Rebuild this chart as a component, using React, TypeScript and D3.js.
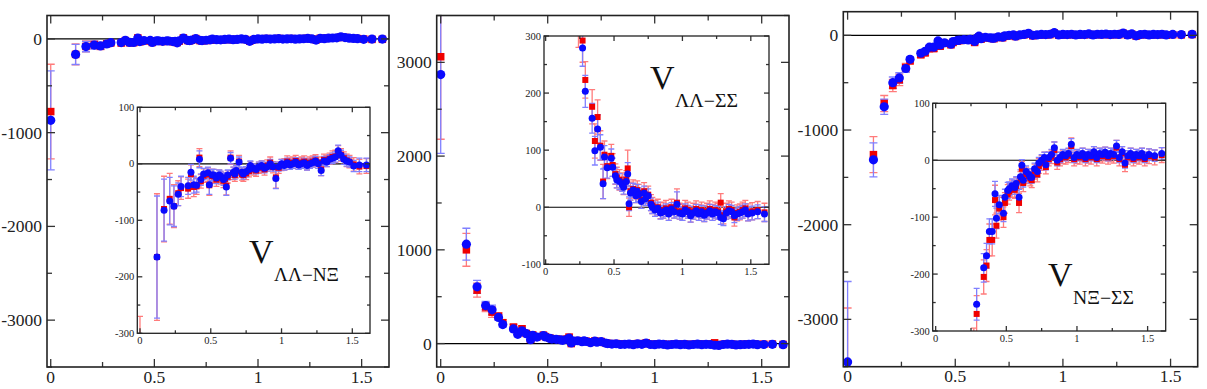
import React from "react";
import * as d3 from "d3";

// Lattice distances r [fm]
const R = [
  0, 0.12, 0.17, 0.21, 0.24, 0.27, 0.29,
  0.34, 0.36, 0.38, 0.4, 0.42, 0.43, 0.45,
  0.48, 0.49, 0.51, 0.52, 0.54, 0.56, 0.57,
  0.59, 0.6, 0.61, 0.62, 0.64, 0.66, 0.67,
  0.68, 0.7, 0.72, 0.73, 0.75, 0.77, 0.78,
  0.8, 0.82, 0.84, 0.86, 0.88, 0.9, 0.92,
  0.94, 0.96, 0.98, 1.0, 1.02, 1.04, 1.06,
  1.08, 1.1, 1.12, 1.14, 1.16, 1.18, 1.2,
  1.22, 1.24, 1.26, 1.28, 1.3, 1.32, 1.34,
  1.36, 1.38, 1.4, 1.42, 1.44, 1.46, 1.48,
  1.51, 1.55, 1.6,
];

// ---- V(ΛΛ-NΞ) ----
const LN_BLUE = [
  -868, -165, -82, -66, -75, -54, -40,
  -39, -15, -37, -38, 8, -28, -18,
  -16, -37, -20, -20, -25, -20, -22,
  -28, -25, -41, -20, 10, -15, -18,
  -12, 3, -15, -18, -14, -10, -3,
  -8, -10, -5, -3, -8, -5, 0,
  -5, -26, -5, 0, -3, 2, -2,
  0, 3, -2, 0, 2, -3, 0,
  2, 5, 0, -12, 5, 3, 8,
  10, 12, 23, 15, 8, 5, 3,
  -4, -2, -2,
];
const LN_BLUE_ERR = [
  528, 108, 55, 42, 36, 20, 18,
  15, 14, 15, 12, 15, 10, 10,
  10, 17, 10, 10, 10, 9, 9,
  10, 9, 15, 9, 10, 9, 9,
  9, 9, 9, 9, 9, 8, 8,
  8, 8, 8, 8, 8, 8, 8,
  8, 18, 8, 8, 8, 8, 8,
  8, 8, 8, 8, 8, 8, 8,
  8, 8, 8, 9, 8, 8, 8,
  9, 9, 10, 9, 9, 9, 9,
  10, 12, 12,
];
const LN_RED = [
  -775, -165, -80, -62, -75, -52, -43,
  -44, -18, -41, -40, 11, -31, -21,
  -19, -38, -22, -22, -28, -22, -25,
  -30, -27, -39, -23, 11, -17, -20,
  -14, 4, -18, -20, -17, -13, -6,
  -10, -12, -7, -5, -10, -3, 2,
  -6, -24, -7, -2, -1, 4, 0,
  2, 5, 0, 2, 4, -1, 2,
  4, 6, 2, -10, 7, 5, 9,
  12, 13, 21, 16, 10, 6, 4,
  -1, -5, -4,
];
const LN_RED_ERR = [
  505, 112, 58, 45, 38, 22, 20,
  17, 16, 17, 14, 16, 12, 12,
  12, 18, 12, 12, 12, 11, 11,
  12, 11, 16, 11, 12, 11, 11,
  11, 11, 11, 11, 11, 10, 10,
  10, 10, 10, 10, 10, 10, 10,
  10, 19, 10, 10, 10, 10, 10,
  10, 10, 10, 10, 10, 10, 10,
  10, 10, 10, 11, 10, 10, 10,
  11, 11, 11, 11, 11, 11, 11,
  12, 13, 13,
];

// ---- V(ΛΛ-ΣΣ) ----
const LS_BLUE = [
  2870, 1060, 605, 405, 360, 279, 203,
  156, 99, 137, 105, 41, 88, 69,
  86, 70, 55, 48, 45, 40, 35,
  45, 58, 6, 25, 30, 20, 28,
  22, 10, 25, 15, 20, 5, 0,
  -5, -2, -10, -8, -5, -12, -3,
  -8, 5, -10, -12, -5, -8, -15,
  -10, -6, -12, -8, -14, -10, -6,
  -12, -8, -10, -18, -20, -10, -6,
  -8, -15, -12, -10, -8, -5, -12,
  -10, -8, -12,
];
const LS_BLUE_ERR = [
  840, 170, 70, 45, 50, 32, 28,
  26, 25, 25, 22, 26, 20, 18,
  16, 16, 14, 14, 14, 12, 12,
  12, 20, 12, 12, 12, 12, 12,
  12, 12, 12, 12, 12, 11, 11,
  11, 11, 11, 11, 11, 11, 11,
  11, 22, 11, 11, 11, 11, 11,
  11, 11, 11, 11, 11, 11, 11,
  11, 11, 11, 12, 12, 11, 11,
  11, 12, 11, 11, 11, 11, 12,
  12, 12, 13,
];
const LS_RED = [
  3060, 1000, 570, 390, 335, 292, 223,
  176, 116, 158, 108, 45, 92, 72,
  90, 74, 58, 52, 48, 44, 38,
  48, 68, 0, 28, 32, 24, 30,
  25, 13, 28, 18, 22, 8, 3,
  -2, 0, -6, -5, -2, -9, 0,
  -5, 8, -7, -9, -2, -5, -12,
  -7, -3, -9, -5, -11, -7, -3,
  -9, -5, -7, 8, -14, -7, -3,
  -5, -18, -10, -8, -5, -2, -9,
  -7, -5, -9,
];
const LS_RED_ERR = [
  880, 175, 75, 50, 55, 38, 32,
  30, 30, 30, 26, 30, 24, 22,
  20, 20, 18, 18, 18, 16, 16,
  16, 32, 16, 16, 16, 16, 16,
  15, 15, 15, 15, 15, 14, 14,
  14, 14, 14, 14, 14, 14, 14,
  14, 24, 14, 14, 14, 14, 14,
  14, 14, 14, 14, 14, 14, 14,
  14, 14, 14, 16, 15, 14, 14,
  14, 15, 14, 14, 14, 14, 15,
  15, 15, 16,
];

// ---- V(NΞ-ΣΣ) ----
const NS_BLUE = [
  -3450, -1315, -755, -500, -450, -350, -253,
  -189, -168, -125, -125, -59, -102, -78,
  -93, -65, -53, -50, -45, -48, -41,
  -65, -29, -9, -35, -20, -25, -30,
  -30, -15, -20, -5, 0, 5, -8,
  5, 10, 22, 0, 5, 10, 8,
  12, 28, 5, 10, 8, 12, 5,
  10, 8, 15, 5, 12, 10, 14,
  8, 12, 10, 25, 5, 15, -5,
  8, 12, 5, 10, 8, 12, 5,
  10, 8, 12,
];
const NS_BLUE_ERR = [
  850, 180, 80, 60, 55, 40, 28,
  25, 22, 22, 22, 22, 18, 16,
  15, 14, 14, 12, 12, 12, 12,
  14, 12, 10, 12, 10, 10, 10,
  10, 10, 10, 10, 10, 9, 9,
  9, 9, 10, 10, 9, 9, 9,
  9, 10, 9, 9, 9, 9, 9,
  9, 9, 9, 9, 9, 9, 9,
  9, 9, 9, 10, 9, 9, 9,
  9, 9, 9, 9, 9, 9, 9,
  10, 10, 10,
];
const NS_RED = [
  -3700, -1260, -720, -530, -470, -340, -270,
  -205, -185, -140, -140, -70, -115, -85,
  -100, -75, -60, -55, -50, -52, -45,
  -75, -35, -15, -40, -25, -28, -32,
  -35, -20, -25, -10, -5, 2, -12,
  2, 6, 18, -4, 2, 6, 5,
  8, 25, 2, 6, 5, 9, 2,
  7, 5, 12, 2, 9, 7, 11,
  5, 9, 7, 22, 2, 12, -8,
  5, 9, 2, 7, 5, 9, 2,
  7, 5, 9,
];
const NS_RED_ERR = [
  820, 190, 85, 65, 60, 45, 32,
  30, 28, 28, 28, 26, 22, 20,
  18, 18, 17, 15, 15, 15, 15,
  17, 15, 13, 15, 13, 13, 13,
  13, 13, 13, 13, 13, 12, 12,
  12, 12, 14, 12, 12, 12, 12,
  12, 14, 12, 12, 12, 12, 12,
  12, 12, 12, 12, 12, 12, 12,
  12, 12, 12, 13, 12, 12, 12,
  12, 12, 12, 12, 12, 12, 12,
  13, 13, 13,
];

const X_TICKS = [0, 0.5, 1, 1.5];
const X_TICK_LABELS = ["0", "0.5", "1", "1.5"];
const Y_TICKS_NEG = [0, -1000, -2000, -3000];
const Y_TICKS_POS = [0, 1000, 2000, 3000];
const INSET_Y_TICKS_NEG = [100, 0, -100, -200, -300];
const INSET_Y_TICKS_POS = [300, 200, 100, 0, -100];

const SUB_LABELS = ["ΛΛ−NΞ", "ΛΛ−ΣΣ", "NΞ−ΣΣ"];

const FONT = "'Liberation Serif', 'DejaVu Serif', serif";
const BLUE = "#0a0aff";
const RED = "#f00000";
const BLUE_BAR = "#8080ff";
const RED_BAR = "#ff7b7b";

type Box = { l: number; t: number; r: number; b: number };
type Series = { v: number[]; e: number[] };

function Plot(props: {
  id: string;
  box: Box;
  xDomain: [number, number];
  yDomain: [number, number];
  yTicks: number[];
  xMinor: number;
  yMinor: number;
  yMajor: number;
  font: number;
  major: number;
  minor: number;
  red: Series;
  blue: Series;
  dot: number;
  sq: number;
  cap: number;
  inset: boolean;
  xLabelDy: number;
  yLabelGap: number;
}) {
  const { id, box, xDomain, yDomain, yTicks, font, major, minor, red, blue } = props;
  const x = d3.scaleLinear().domain(xDomain).range([box.l, box.r]);
  const y = d3.scaleLinear().domain(yDomain).range([box.b, box.t]);

  const xt: { v: number; maj: boolean }[] = [];
  for (let k = Math.ceil(xDomain[0] / props.xMinor - 1e-9); k * props.xMinor <= xDomain[1] + 1e-9; k++) {
    const v = k * props.xMinor;
    xt.push({ v, maj: Math.abs(v / 0.5 - Math.round(v / 0.5)) < 1e-6 });
  }
  const yt: { v: number; maj: boolean }[] = [];
  for (let k = Math.ceil(yDomain[0] / props.yMinor - 1e-9); k * props.yMinor <= yDomain[1] + 1e-9; k++) {
    const v = k * props.yMinor;
    yt.push({ v, maj: Math.abs(v / props.yMajor - Math.round(v / props.yMajor)) < 1e-6 });
  }

  const bars = (s: Series, color: string) =>
    R.map((r, i) => {
      const cx = x(r);
      const y1 = y(s.v[i] + s.e[i]);
      const y2 = y(s.v[i] - s.e[i]);
      const h = props.cap / 2;
      return (
        <g key={i} stroke={color} strokeWidth={1.3} fill="none">
          <line x1={cx} x2={cx} y1={y1} y2={y2} />
          <line x1={cx - h} x2={cx + h} y1={y1} y2={y1} />
          <line x1={cx - h} x2={cx + h} y1={y2} y2={y2} />
        </g>
      );
    });

  return (
    <g>
      <defs>
        <clipPath id={id}>
          <rect x={box.l} y={box.t} width={box.r - box.l} height={box.b - box.t} />
        </clipPath>
      </defs>
      {props.inset && (
        <rect x={box.l} y={box.t} width={box.r - box.l} height={box.b - box.t} fill="white" />
      )}
      <g clipPath={`url(#${id})`}>
        <line x1={box.l} x2={box.r} y1={y(0)} y2={y(0)} stroke="#000" strokeWidth={1.2} />
        {bars(red, RED_BAR)}
        {bars(blue, BLUE_BAR)}
        {R.map((r, i) => (
          <rect
            key={"s" + i}
            x={x(r) - props.sq / 2}
            y={y(red.v[i]) - props.sq / 2}
            width={props.sq}
            height={props.sq}
            fill={RED}
          />
        ))}
        {R.map((r, i) => (
          <circle key={"c" + i} cx={x(r)} cy={y(blue.v[i])} r={props.dot} fill={BLUE} />
        ))}
      </g>
      <g stroke="#333" strokeWidth={1.3}>
        {xt.map((t, i) => {
          const L = t.maj ? major : minor;
          const px = x(t.v);
          return (
            <g key={"xt" + i}>
              <line x1={px} x2={px} y1={box.b} y2={box.b - L} />
              <line x1={px} x2={px} y1={box.t} y2={box.t + L} />
            </g>
          );
        })}
        {yt.map((t, i) => {
          const L = t.maj ? major : minor;
          const py = y(t.v);
          return (
            <g key={"yt" + i}>
              <line x1={box.l} x2={box.l + L} y1={py} y2={py} />
              <line x1={box.r} x2={box.r - L} y1={py} y2={py} />
            </g>
          );
        })}
      </g>
      <rect
        x={box.l}
        y={box.t}
        width={box.r - box.l}
        height={box.b - box.t}
        fill="none"
        stroke="#222"
        strokeWidth={props.inset ? 1.3 : 1.6}
      />
      <g fontFamily={FONT} fontSize={font} fill="#222">
        {X_TICKS.map((v, i) => (
          <text key={"xl" + i} x={x(v)} y={box.b + props.xLabelDy} textAnchor="middle">
            {X_TICK_LABELS[i]}
          </text>
        ))}
        {yTicks.map((v, i) => (
          <text
            key={"yl" + i}
            x={box.l - props.yLabelGap}
            y={y(v)}
            textAnchor="end"
            dominantBaseline="central"
          >
            {String(v)}
          </text>
        ))}
      </g>
    </g>
  );
}

const mainOpts = {
  xMinor: 0.25,
  yMinor: 500,
  yMajor: 1000,
  font: 17.5,
  major: 8,
  minor: 5,
  dot: 4.6,
  sq: 7.5,
  cap: 8,
  inset: false,
  xLabelDy: 15.5,
  yLabelGap: 5,
};
const insetOpts = {
  xMinor: 0.25,
  yMinor: 50,
  yMajor: 100,
  font: 10.5,
  major: 5,
  minor: 3,
  dot: 3.5,
  sq: 6,
  cap: 6,
  inset: true,
  xLabelDy: 11,
  yLabelGap: 3,
};

function Label(props: { x: number; y: number; sub: string; subW: number }) {
  return (
    <g fontFamily={FONT} fill="#111">
      <text x={props.x} y={props.y} fontSize={34}>
        V
      </text>
      <text
        x={props.x + 25}
        y={props.y + 18}
        fontSize={18}
        textLength={props.subW}
        lengthAdjust="spacingAndGlyphs"
      >
        {props.sub}
      </text>
    </g>
  );
}

export default function App() {
  const ln = { red: { v: LN_RED, e: LN_RED_ERR }, blue: { v: LN_BLUE, e: LN_BLUE_ERR } };
  const ls = { red: { v: LS_RED, e: LS_RED_ERR }, blue: { v: LS_BLUE, e: LS_BLUE_ERR } };
  const ns = { red: { v: NS_RED, e: NS_RED_ERR }, blue: { v: NS_BLUE, e: NS_BLUE_ERR } };
  return (
    <svg
      width={1207}
      height={389}
      style={{ position: "absolute", left: 0, top: 0, background: "white" }}
    >
      <rect x={0} y={0} width={1207} height={389} fill="white" />
      {/* Panel 1 */}
      <Plot
        id="c1"
        box={{ l: 47, t: 15.5, r: 389, b: 367 }}
        xDomain={[-0.018, 1.632]}
        yDomain={[-3500, 250]}
        yTicks={Y_TICKS_NEG}
        {...mainOpts}
        {...ln}
      />
      <Plot
        id="c1i"
        box={{ l: 137.3, t: 107.3, r: 370, b: 333.3 }}
        xDomain={[-0.019, 1.625]}
        yDomain={[-300, 100]}
        yTicks={INSET_Y_TICKS_NEG}
        {...insetOpts}
        {...ln}
      />
      <Label x={249} y={263} sub={SUB_LABELS[0]} subW={65} />

      {/* Panel 2 */}
      <Plot
        id="c2"
        box={{ l: 436.7, t: 15.5, r: 789, b: 367 }}
        xDomain={[-0.0187, 1.6276]}
        yDomain={[-250, 3500]}
        yTicks={Y_TICKS_POS}
        {...mainOpts}
        {...ls}
      />
      <Plot
        id="c2i"
        box={{ l: 544, t: 36, r: 769, b: 264.3 }}
        xDomain={[-0.012, 1.633]}
        yDomain={[-100, 300]}
        yTicks={INSET_Y_TICKS_POS}
        {...insetOpts}
        {...ls}
      />
      <Label x={650} y={89} sub={SUB_LABELS[1]} subW={63} />

      {/* Panel 3 */}
      <Plot
        id="c3"
        box={{ l: 843.3, t: 11.7, r: 1197.7, b: 366.7 }}
        xDomain={[-0.02, 1.626]}
        yDomain={[-3500, 250]}
        yTicks={Y_TICKS_NEG}
        {...mainOpts}
        {...ns}
      />
      <Plot
        id="c3i"
        box={{ l: 932.7, t: 103.3, r: 1165.7, b: 331 }}
        xDomain={[-0.021, 1.628]}
        yDomain={[-300, 100]}
        yTicks={INSET_Y_TICKS_NEG}
        {...insetOpts}
        {...ns}
      />
      <Label x={1048} y={286} sub={SUB_LABELS[2]} subW={61} />
    </svg>
  );
}
